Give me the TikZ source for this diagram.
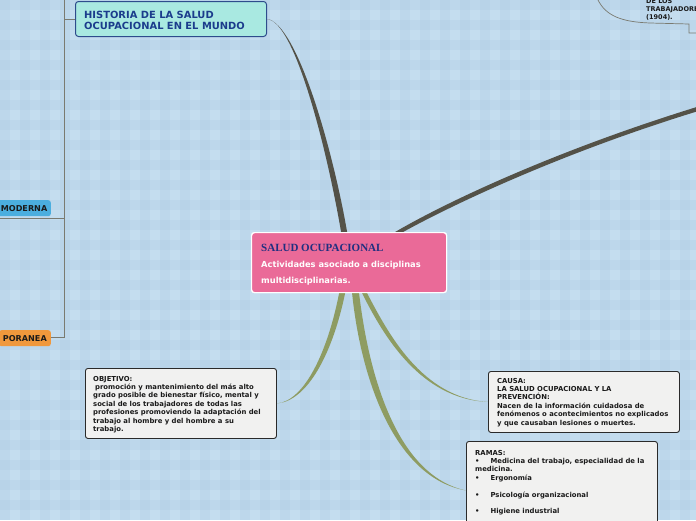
\documentclass[tikz,border=0pt]{standalone}
\usepackage{fontspec}
\setmainfont{DejaVu Sans}
\newfontfamily\titlefont{Liberation Serif}
\usetikzlibrary{positioning,calc}

\definecolor{bgbase}{HTML}{C4DDEF}
\definecolor{bgband}{HTML}{AFCBE2}
\definecolor{pinkmain}{HTML}{EA6A98}
\definecolor{titleblue}{HTML}{1F2F80}
\definecolor{histfill}{HTML}{A9E9E1}
\definecolor{histline}{HTML}{2E4C8C}
\definecolor{histink}{HTML}{1B3C8C}
\definecolor{darkbranch}{HTML}{545248}
\definecolor{greenbranch}{HTML}{8E9C62}
\definecolor{notefill}{HTML}{F1F1F0}
\definecolor{noteline}{HTML}{2A2A2A}
\definecolor{noteink}{HTML}{1A1A1A}
\definecolor{modblue}{HTML}{4BAEDF}
\definecolor{contorange}{HTML}{F0983C}
\definecolor{treegray}{HTML}{7A7A70}

\tikzset{
  topicbox/.style={draw=white, line width=1.2pt, rounded corners=3pt, fill=pinkmain,
    minimum width=195pt, minimum height=60pt, anchor=north west, inner sep=0pt},
  histbox/.style={draw=histline, line width=1pt, rounded corners=3pt, fill=histfill,
    minimum width=191pt, minimum height=35pt, anchor=north west, inner sep=0pt},
  notebox/.style={draw=noteline, line width=0.9pt, rounded corners=2.5pt, fill=notefill,
    minimum width=191pt, anchor=north west, inner sep=0pt},
  notetext/.style={anchor=north west, inner sep=0pt, align=left, text=noteink,
    font=\bfseries\fontsize{6.85}{8.35}\selectfont},
  periodtag/.style={rounded corners=2.5pt, minimum height=16pt, inner xsep=4pt, inner ysep=0pt,
    anchor=north east, text=noteink, font=\bfseries\fontsize{8.1}{9}\selectfont},
  treeline/.style={draw=treegray, line width=0.7pt},
  darkfill/.style={fill=darkbranch},
  greenfill/.style={fill=greenbranch}
}

\begin{document}
\begin{tikzpicture}[x=1pt, y=-1pt]
  \useasboundingbox (0,0) rectangle (696,520);
  \clip (0,0) rectangle (696,520);

  % background plaid
  \fill[bgbase] (0,0) rectangle (696,520);
  \foreach \i in {0,20,...,680}
    \fill[bgband, opacity=0.3] (\i,0) rectangle ++(10,520);
  \foreach \j in {0,20,...,500}
    \fill[bgband, opacity=0.3] (0,\j) rectangle ++(696,10);

  % left tree
  \coordinate (trunk-top) at (64,0);
  \coordinate (trunk-bottom) at (64,337);
  \coordinate (moderna-stub) at (0,218);

  \node[histbox] (historia) at (75,1) {};
  \node[anchor=north west, inner sep=0pt, align=left, text=histink,
    font=\bfseries\fontsize{9.9}{11.6}\selectfont] (historia-text)
    at ($(historia.north west)+(9,9.5)$) {HISTORIA DE LA SALUD\\OCUPACIONAL EN EL MUNDO};

  \node[periodtag, fill=modblue, inner xsep=3.5pt] (moderna) at (51,200) {MODERNA};
  \node[periodtag, fill=contorange] (poranea) at (51,330) {PORANEA};

  \draw[treeline] (trunk-top) -- (trunk-bottom) -- (poranea.east |- trunk-bottom);
  \draw[treeline] (historia.west) -- (trunk-top |- historia.west);
  \draw[treeline] (moderna-stub) -- (trunk-top |- moderna-stub);

  % top right (cut off)
  \draw[treeline] (598,0) .. controls (606,16) and (622,22) .. (650,23) -- (689,24) -- (689,33) -- (700,33);
  \node[anchor=north west, inner sep=0pt, align=left, text=noteink,
    font=\bfseries\fontsize{6.5}{8.3}\selectfont] (trabajadores) at (646,-2)
    {DE LOS\\TRABAJADORES\\(1904).};

  % main topic
  \node[topicbox] (salud) at (251,232) {};

  % notes
  \node[notebox, minimum height=70pt] (objetivo) at (85,368) {};
  \node[notebox, minimum height=61pt] (causa) at (488,371) {};
  \node[notebox, minimum height=98pt] (ramas) at (466,441) {};

  % branches
  \coordinate (right-end) at (700,108);
  \fill[darkfill] (historia.east) .. controls (295,21) and (327,150) .. ($(salud.north)+(-8,0)$)
    -- ($(salud.north)+(-2,0)$) .. controls (333,150) and (297,23) .. (historia.east) -- cycle;
  \fill[darkfill] ($(salud.north)+(46,0)$) .. controls (450,200) and (560,149) .. ($(right-end)+(0,-2)$)
    -- ($(right-end)+(0,2.5)$) .. controls (561,153) and (452,205) .. ($(salud.north)+(54,0)$) -- cycle;
  \fill[greenfill] ($(salud.south)+(-10,0)$) .. controls (328,350) and (305,401) .. (objetivo.east)
    .. controls (308,401) and (333,352) .. ($(salud.south)+(-4,0)$) -- cycle;
  \fill[greenfill] ($(salud.south)+(13,0)$) .. controls (383,335) and (420,399) .. (causa.west)
    .. controls (422,398) and (388,333) .. ($(salud.south)+(18,0)$) -- cycle;
  \fill[greenfill] ($(salud.south)+(3,0)$) .. controls (361,380) and (395,478) .. (ramas.west)
    .. controls (398,476) and (369,378) .. ($(salud.south)+(10,0)$) -- cycle;

  % redraw topic box on top of branches
  \node[topicbox] (salud-top) at (251,232) {};
  \node[anchor=base west, inner sep=0pt, text=titleblue, font=\titlefont\bfseries\fontsize{11}{12}\selectfont]
    (salud-title) at ($(salud.north west)+(10,19)$) {SALUD OCUPACIONAL};
  \node[anchor=north west, inner sep=0pt, align=left, text=white, font=\bfseries\fontsize{8.3}{16}\selectfont]
    (salud-text) at ($(salud.north west)+(10,28.5)$) {Actividades asociado a disciplinas\\multidisciplinarias.};

  \node[notetext] (objetivo-text) at ($(objetivo.north west)+(8,8)$)
    {OBJETIVO:\\\hspace{2pt}promoción y mantenimiento del más alto\\grado posible de bienestar físico, mental y\\social de los trabajadores de todas las\\profesiones promoviendo la adaptación del\\trabajo al hombre y del hombre a su\\trabajo.};
  \node[notetext] (causa-text) at ($(causa.north west)+(9,7)$)
    {CAUSA:\\LA SALUD OCUPACIONAL Y LA\\PREVENCIÓN:\\Nacen de la información cuidadosa de\\fenómenos o acontecimientos no explicados\\y que causaban lesiones o muertes.};
  \node[notetext] (ramas-text) at ($(ramas.north west)+(9,9)$)
    {RAMAS:\\•\hspace{11pt}Medicina del trabajo, especialidad de la\\medicina.\\•\hspace{11pt}Ergonomía\\[8.35pt]•\hspace{11pt}Psicología organizacional\\[8.35pt]•\hspace{11pt}Higiene industrial};
\end{tikzpicture}
\end{document}
